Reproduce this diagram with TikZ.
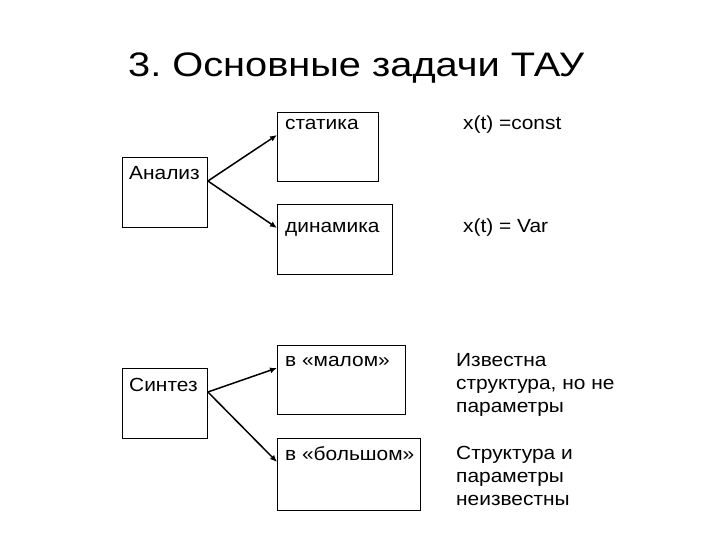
\documentclass[tikz,border=0pt]{standalone}
\usepackage{fontspec}
\setmainfont{Liberation Sans}[FakeStretch=1.1]
\newfontfamily\titlefont{Liberation Sans}[FakeStretch=1.17]
\frenchspacing
\usetikzlibrary{arrows.meta,calc}
\begin{document}
\begin{tikzpicture}[x=1pt,y=-1pt,
  box/.style={draw,line width=0.9pt,inner sep=0pt},
  lbl/.style={anchor=base west,inner sep=0pt,font=\fontsize{19}{22.8}\selectfont,align=left},
  conn/.style={line width=1.5pt,-{Latex[length=7pt,width=6pt]}}]
\useasboundingbox[fill=white] (0,0) rectangle (720,540);
\node[anchor=base west,inner sep=0pt,font=\titlefont\fontsize{34}{40}\selectfont] (title) at (128,77) {3. Основные задачи ТАУ};
% boxes
\path (122,157) coordinate (Anw);
\path (277,112) coordinate (Snw) (277,204) coordinate (Dnw);
\path (122,368) coordinate (Ynw);
\path (277,345) coordinate (Mnw) (277,438) coordinate (Bnw);
\node[box,minimum width=85pt,minimum height=70pt,anchor=north west] (An) at (Anw) {};
\node[box,minimum width=101pt,minimum height=69pt,anchor=north west] (St) at (Snw) {};
\node[box,minimum width=115pt,minimum height=70pt,anchor=north west] (Di) at (Dnw) {};
\node[box,minimum width=85pt,minimum height=70pt,anchor=north west] (Si) at (Ynw) {};
\node[box,minimum width=128pt,minimum height=69pt,anchor=north west] (Ma) at (Mnw) {};
\node[box,minimum width=143pt,minimum height=72pt,anchor=north west] (Bo) at (Bnw) {};
% texts
\node[lbl] (tAn) at (129,180) {Анализ};
\node[lbl] (tSi) at (129,391) {Синтез};
\node[lbl] (tSt) at (285,130) {статика};
\node[lbl] (tDi) at (285,233) {динамика};
\node[lbl] (tMa) at (285,366) {в «малом»};
\node[lbl] (tBo) at (285,460) {в «большом»};
\node[lbl] (c1) at (463,130) {x(t) =const};
\node[lbl] (c2) at (463,233) {x(t) = Var};
\node[lbl] (c3) at (456,412) {Известна\\структура, но не\\параметры};
\node[lbl] (c4) at (456,505) {Структура и\\параметры\\неизвестны};
% connectors
\coordinate (aA) at ($(An.north east)+(0,24)$);
\coordinate (aY) at ($(Si.north east)+(0,24)$);
\draw[conn] (aA) -- ($(St.north west)+(0,23)$);
\draw[conn] (aA) -- ($(Di.north west)+(0,24)$);
\draw[conn] (aY) -- ($(Ma.north west)+(0,23)$);
\draw[conn] (aY) -- ($(Bo.north west)+(0,24)$);
\end{tikzpicture}
\end{document}
